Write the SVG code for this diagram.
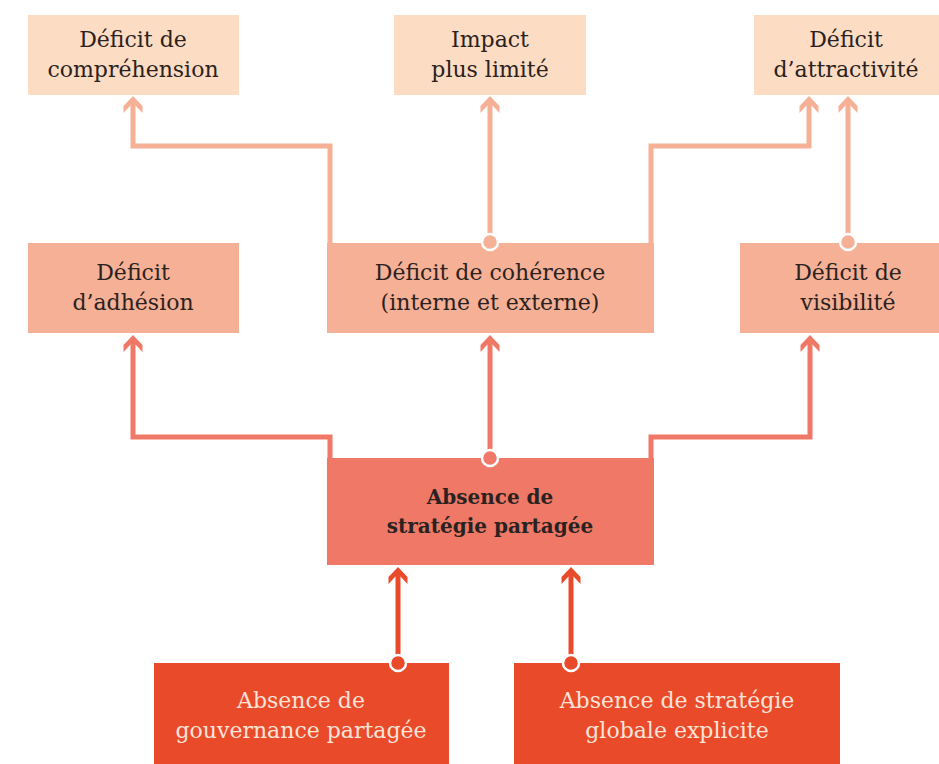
<svg xmlns="http://www.w3.org/2000/svg" width="939" height="764" viewBox="0 0 939 764">
<defs>
<style>
.t{font-family:"DejaVu Serif","Liberation Serif",serif;font-size:22px;fill:#2a2220;text-anchor:middle}
.b{font-weight:bold;font-size:20px}
.w{fill:#fde3d8}
.l1{fill:none;stroke:#f6b095;stroke-width:5}
.l2{fill:none;stroke:#f07866;stroke-width:5}
.l3{fill:none;stroke:#e84a2a;stroke-width:5}
.c{stroke:#fff;stroke-width:2.5}
</style>
<polygon id="ah" points="0,0 9.5,10 9.5,17 2.5,9.5 -2.5,9.5 -9.5,17 -9.5,10"/>
</defs>
<rect width="939" height="764" fill="#fff"/>
<g id="connectors">
<g fill="#f6b095">
<path class="l1" d="M330,243 V146 H133 V104"/>
<use href="#ah" x="133" y="96"/>
<path class="l1" d="M490,241 V104"/>
<use href="#ah" x="490" y="96"/>
<path class="l1" d="M651,243 V146 H809 V104"/>
<use href="#ah" x="809" y="96"/>
<path class="l1" d="M848,241 V104"/>
<use href="#ah" x="848" y="96"/>
</g>
<g fill="#f07866">
<path class="l2" d="M330,458 V437 H133 V343"/>
<use href="#ah" x="133" y="335"/>
<path class="l2" d="M490,458 V343"/>
<use href="#ah" x="490" y="335"/>
<path class="l2" d="M651,458 V437 H810 V343"/>
<use href="#ah" x="810" y="335"/>
</g>
<g fill="#e84a2a">
<path class="l3" d="M398,663 V575"/>
<use href="#ah" x="398" y="567"/>
<path class="l3" d="M571,663 V575"/>
<use href="#ah" x="571" y="567"/>
</g>
</g>
<g id="n-comprehension"><rect x="28" y="15" width="211" height="80" fill="#fcdcc3"/><text class="t" x="133" y="47">Déficit de</text><text class="t" x="133" y="77">compréhension</text></g>
<g id="n-impact"><rect x="394" y="15" width="192" height="80" fill="#fcdcc3"/><text class="t" x="490" y="47">Impact</text><text class="t" x="490" y="77">plus limité</text></g>
<g id="n-attractivite"><rect x="754" y="15" width="185" height="80" fill="#fcdcc3"/><text class="t" x="846" y="47">Déficit</text><text class="t" x="846" y="77">d’attractivité</text></g>
<g id="n-adhesion"><rect x="28" y="243" width="211" height="90" fill="#f6b095"/><text class="t" x="133" y="280">Déficit</text><text class="t" x="133" y="310">d’adhésion</text></g>
<g id="n-coherence"><rect x="327" y="243" width="327" height="90" fill="#f6b095"/><circle class="c" cx="490" cy="242" r="8" fill="#f6b095"/><text class="t" x="490" y="280">Déficit de cohérence</text><text class="t" x="490" y="310">(interne et externe)</text></g>
<g id="n-visibilite"><rect x="740" y="243" width="199" height="90" fill="#f6b095"/><circle class="c" cx="848" cy="242" r="8" fill="#f6b095"/><text class="t" x="848" y="280">Déficit de</text><text class="t" x="848" y="310">visibilité</text></g>
<g id="n-strategie"><rect x="327" y="458" width="327" height="107" fill="#ef7866"/><circle class="c" cx="490" cy="458" r="8" fill="#ef7866"/><text class="t b" x="490" y="504">Absence de</text><text class="t b" x="490" y="533">stratégie partagée</text></g>
<g id="n-gouvernance"><rect x="154" y="663" width="295" height="101" fill="#e84a2a"/><circle class="c" cx="398" cy="663" r="8" fill="#e84a2a"/><text class="t w" x="301" y="708">Absence de</text><text class="t w" x="301" y="738">gouvernance partagée</text></g>
<g id="n-globale"><rect x="514" y="663" width="326" height="101" fill="#e84a2a"/><circle class="c" cx="571" cy="663" r="8" fill="#e84a2a"/><text class="t w" x="677" y="708">Absence de stratégie</text><text class="t w" x="677" y="738">globale explicite</text></g>
</svg>
